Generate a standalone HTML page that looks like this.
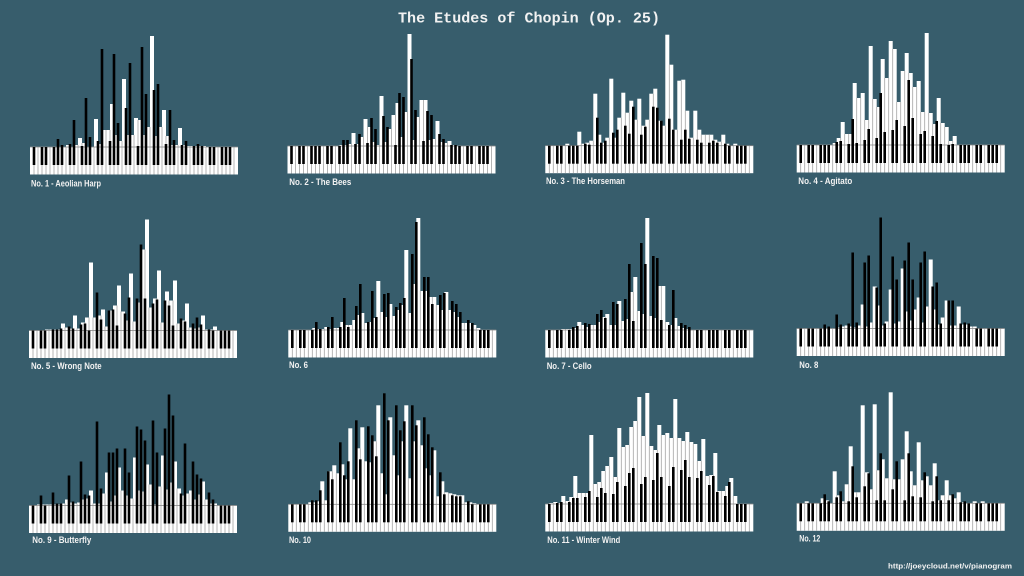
<!DOCTYPE html>
<html><head><meta charset="utf-8"><style>
html,body{margin:0;padding:0;background:#375d6c;width:1024px;height:576px;overflow:hidden}
svg{display:block}
</style></head><body>
<svg id="s" width="1024" height="576" viewBox="0 0 1024 576" xmlns="http://www.w3.org/2000/svg">
<rect width="1024" height="576" fill="#375d6c"/>
<g id="bars"></g>
<g font-family="Liberation Sans, DejaVu Sans, sans-serif" font-weight="bold" font-size="9" fill="#f2f2f2">
<text x="31" y="186.5" textLength="70" lengthAdjust="spacingAndGlyphs">No. 1 - Aeolian Harp</text>
<text x="289.3" y="185" textLength="62" lengthAdjust="spacingAndGlyphs">No. 2 - The Bees</text>
<text x="546" y="184" textLength="79" lengthAdjust="spacingAndGlyphs">No. 3 - The Horseman</text>
<text x="798.3" y="184" textLength="54" lengthAdjust="spacingAndGlyphs">No. 4 - Agitato</text>
<text x="31" y="369" textLength="70.7" lengthAdjust="spacingAndGlyphs">No. 5 - Wrong Note</text>
<text x="289" y="368" textLength="19" lengthAdjust="spacingAndGlyphs">No. 6</text>
<text x="546.7" y="369" textLength="45" lengthAdjust="spacingAndGlyphs">No. 7 - Cello</text>
<text x="799.3" y="368" textLength="19" lengthAdjust="spacingAndGlyphs">No. 8</text>
<text x="32.3" y="543" textLength="59" lengthAdjust="spacingAndGlyphs">No. 9 - Butterfly</text>
<text x="289" y="543" textLength="22" lengthAdjust="spacingAndGlyphs">No. 10</text>
<text x="547.3" y="543" textLength="73" lengthAdjust="spacingAndGlyphs">No. 11 - Winter Wind</text>
<text x="799.3" y="541.7" textLength="21" lengthAdjust="spacingAndGlyphs">No. 12</text>
</g>
<text x="398" y="22.5" font-family="Liberation Mono, DejaVu Sans Mono, monospace" font-weight="bold" font-size="15" fill="#f2f2f2" textLength="262" lengthAdjust="spacingAndGlyphs">The Etudes of Chopin (Op. 25)</text>
<text x="888" y="568.5" font-family="Liberation Sans, DejaVu Sans, sans-serif" font-weight="bold" font-size="7.5" fill="#f2f2f2" textLength="124" lengthAdjust="spacingAndGlyphs">http://joeycloud.net/v/pianogram</text>
</svg>
<script>
var P=[
{x:30,t:147,W:[0,0,0,0,0,0,0,0,0,2, 0,2,9,4,0,0,28,3,17,17, 43,12,6,68,12,12,29,27,12,20, 111,11,20,37,11,2,2,19,2,1, 1,1,1,1,0,0,0,0,0,0, 0,0],
 B:{7:8,8:2,10:3,11:27,13:1,14:49,15:10,17:6,18:98,20:6,21:93,22:24,24:39,25:84,27:1,28:100,29:53,31:57,32:63,34:3,35:37,36:7,38:2,39:6,41:1,42:3,43:1}},
{x:287.5,t:146,W:[0,0,0,0,0,0,0,0,0,0, 0,0,0,1,1,2,13,2,9,27, 19,4,1,50,4,17,31,43,9,34, 112,6,29,46,46,6,7,25,4,3, 5,1,0,0,0,0,0,0,0,0, 0,0],
 B:{14:6,15:6,17:2,18:12,20:3,21:28,22:17,24:30,25:19,27:1,28:53,29:49,31:87,32:36,34:5,35:35,36:31,38:12,39:7,41:1,42:1}},
{x:545.3,t:145.7,W:[0,0,0,0,0,2,0,0,14,2, 3,5,52,11,3,8,67,8,28,53, 33,45,26,47,20,26,52,57,25,20, 111,81,16,65,66,35,8,35,16,11, 11,11,6,4,11,2,0,2,0,0, 0,0],
 B:{10:2,11:1,13:28,14:3,15:5,17:13,18:16,20:20,21:12,22:39,24:11,25:19,27:39,28:38,29:25,31:27,32:16,34:6,35:16,36:7,38:6,39:3,41:3,42:5,43:3,45:2}},
{x:796.7,t:145,W:[0,0,0,0,0,0,0,0,0,2, 7,23,11,11,62,47,52,25,99,46, 38,86,67,104,96,43,74,92,72,58, 64,33,112,32,21,47,22,18,4,9, 0,0,0,0,0,0,0,0,0,0, 0,0],
 B:{10:3,11:4,13:1,14:26,15:2,17:5,18:16,20:7,21:52,22:13,24:15,25:25,27:19,28:65,29:27,31:11,32:14,34:9,35:24,36:1,39:1}},
{x:29,t:330.5,W:[0,0,0,0,1,1,1,1,7,3, 2,15,2,8,13,68,13,15,21,4, 20,25,45,19,10,57,9,28,81,111, 23,32,60,8,39,30,50,7,10,27, 3,2,3,15,1,1,4,0,0,0, 0,0],
 B:{6:1,7:1,8:2,10:4,11:2,13:6,14:7,17:38,18:11,20:20,21:21,22:5,24:17,25:33,27:32,28:86,29:32,31:27,32:31,34:30,35:25,36:5,38:12,39:9,41:7,42:13,43:6,45:1}},
{x:288.3,t:330,W:[0,0,0,0,0,0,2,1,1,3, 1,2,2,8,5,5,10,15,17,7, 8,12,49,18,13,26,14,20,25,80, 17,46,112,39,39,33,33,25,20,38, 20,18,13,7,7,7,5,2,0,0, 0,0],
 B:{7:8,8:1,10:3,11:13,13:3,14:32,15:3,17:24,18:46,20:8,21:39,22:13,24:36,25:37,27:23,28:27,29:32,31:76,32:108,34:53,35:53,36:26,38:35,39:37,41:29,42:26,43:18,45:10,46:7}},
{x:545.3,t:330,W:[0,0,0,0,1,1,1,2,8,5, 3,5,5,8,13,16,5,5,29,9, 11,38,53,19,16,112,14,12,44,44, 8,5,12,4,2,1,0,0,0,0, 0,0,0,0,0,0,0,0,0,0, 0,0],
 B:{7:3,8:4,10:7,11:6,13:16,14:20,15:12,17:28,18:26,20:31,21:66,22:9,24:87,25:66,27:74,28:72,29:10,31:5,32:40,34:7,35:5,36:3}},
{x:796.7,t:328.5,W:[0,0,0,0,0,0,0,0,0,0, 1,2,3,2,1,3,24,2,6,42, 23,3,7,39,5,7,60,17,8,19, 31,6,22,69,19,4,11,28,3,3, 22,4,4,2,2,0,0,0,0,0, 0,0],
 B:{7:4,8:2,10:14,11:4,13:5,14:76,15:6,17:66,18:73,20:41,21:111,22:5,24:72,25:49,27:68,28:86,29:49,31:66,32:77,34:42,35:46,36:5,38:28,39:28,41:5,42:6,43:5}},
{x:29,t:505.5,W:[0,0,1,1,1,1,1,1,2,6, 3,2,3,6,7,15,2,2,12,33, 4,10,38,15,10,7,48,15,14,41, 21,1,19,50,16,23,44,17,10,12, 15,6,11,24,6,2,2,0,0,0, 0,0],
 B:{3:10,6:13,7:2,8:2,10:30,11:4,13:44,14:11,15:10,17:84,18:17,20:53,21:53,22:57,24:57,25:33,27:79,28:76,29:65,31:85,32:53,34:77,35:111,36:90,38:12,39:62,41:44,42:31,43:27,45:13,46:6}},
{x:288.3,t:504.3,W:[0,0,0,0,0,2,2,3,23,4, 33,39,31,40,25,76,25,56,77,43, 42,63,99,31,10,87,49,29,63,99, 26,63,84,59,36,29,54,8,23,12, 11,10,9,9,2,2,1,0,0,0, 0,0],
 B:{6:4,7:4,8:14,10:33,11:25,13:62,14:29,15:43,17:84,18:45,20:78,21:69,22:48,24:111,25:84,27:99,28:74,29:83,31:99,32:79,34:87,35:70,36:57,38:32,39:10,41:9,42:8,43:8,45:3}},
{x:545.3,t:504,W:[0,1,2,1,8,3,7,28,11,11, 11,69,20,22,33,38,47,27,76,57, 59,77,83,107,68,111,58,54,79,69, 71,66,105,66,63,72,62,60,43,65, 28,29,51,13,13,18,26,8,0,0, 0,0],
 B:{3:1,4:2,6:2,7:6,8:6,10:7,11:13,13:7,14:16,15:11,17:10,18:22,20:18,21:31,22:36,24:20,25:27,27:24,28:51,29:27,31:18,32:37,34:34,35:44,36:27,38:26,39:33,41:19,42:28,43:12,45:8,46:22}},
{x:796.7,t:503.3,W:[0,0,2,0,0,0,5,3,0,32, 8,2,19,57,11,11,98,31,14,99, 33,44,25,111,24,24,44,72,32,18, 61,23,27,18,40,3,8,23,8,5, 11,1,0,0,2,0,2,0,0,0, 0,0],
 B:{7:9,8:2,10:6,11:12,13:2,14:37,15:6,17:17,18:30,20:3,21:50,22:3,24:14,25:42,27:3,28:50,29:7,31:6,32:31,34:2,35:27,36:3,38:3,39:9,41:1,42:2}}
];
function isBlack(k){ if(k===1) return true; if(k<3||k>50) return false; var r=(k-3)%7; return r===0||r===1||r===3||r===4||r===5; }
var out='';
P.forEach(function(p){
  var x0=p.x,t=p.t,KH=27.5,BH=18,w,k,h;
  for(w=0;w<52;w++){ h=p.W[w]; if(h>0) out+='<rect x="'+(x0+4*w)+'" y="'+(t-h)+'" width="4" height="'+h+'" fill="#ffffff"/>'; }
  out+='<rect x="'+x0+'" y="'+t+'" width="208" height="'+KH+'" fill="#ffffff"/>';
  for(w=1;w<52;w++){ h=Math.min(p.W[w-1],p.W[w]); out+='<rect x="'+(x0+4*w-0.4)+'" y="'+(t-h)+'" width="0.8" height="'+(h+KH)+'" fill="#a4a4a4"/>'; }
  out+='<rect x="'+x0+'" y="'+(t-0.4)+'" width="208" height="0.8" fill="#8a8a8a"/>';
  for(k=1;k<52;k++){ if(!isBlack(k)) continue; h=p.B[k]||0; out+='<rect x="'+(x0+4*k-1.3)+'" y="'+(t-h)+'" width="2.6" height="'+(h+BH)+'" fill="#000000"/>'; }
});
document.getElementById('bars').innerHTML=out;
</script>
</body></html>
